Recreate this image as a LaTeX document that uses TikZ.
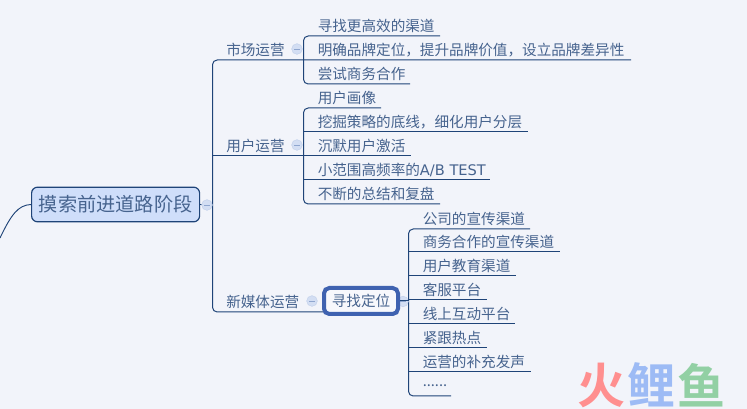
\documentclass[tikz,border=0pt]{standalone}
\usepackage{fontspec}
\newfontfamily\cjkfont{Noto Sans CJK SC}
\newfontfamily\cjkbold{Noto Sans CJK SC Bold}
\newfontfamily\latinfont{DejaVu Sans}
\newcommand{\moredots}{......}
\definecolor{mm back}{HTML}{F2F4FA}
\definecolor{mm navy}{HTML}{1F4478}
\definecolor{mm text}{HTML}{46638E}
\definecolor{mm root}{HTML}{CFDEFA}
\definecolor{mm focus}{HTML}{3F62B0}
\definecolor{mm knob}{HTML}{D3DEF3}
\definecolor{mm minus}{HTML}{8FA6CF}
\definecolor{mark red}{HTML}{FF8F8F}
\definecolor{mark blue}{HTML}{9DBBF5}
\definecolor{mark green}{HTML}{92D0A4}
\tikzset{
  branch/.style = {mm navy, line width = 0.75pt, rounded corners = 3.5pt},
  topic/.style = {anchor = west, inner sep = 0pt, text = mm text, font = \cjkfont\fontsize{10.95}{13}\selectfont},
  knob/.style = {circle, draw = mm knob!80!mm minus, fill = mm knob, line width = 0.4pt, minimum size = 8pt, inner sep = 0pt,
    path picture = {\draw[mm minus, line width = 0.6pt] ([xshift = 1.8pt]path picture bounding box.west) -- ([xshift = -1.8pt]path picture bounding box.east);}},
  logo/.style = {inner sep = 0pt, font = \cjkbold\fontsize{36}{38}\selectfont}
}

\begin{document}
\begin{tikzpicture}[x = 0.75pt, y = -0.75pt]
      \useasboundingbox[fill = mm back] (0, 0) rectangle (747, 409);

      \node[anchor = west, rectangle, rounded corners = 4.5pt, draw = mm navy, fill = mm root, line width = 0.9pt,
        minimum width = 126pt, minimum height = 26pt, inner sep = 0pt, text = mm text,
        font = \cjkfont\fontsize{14.4}{17}\selectfont] (root) at (31, 204.5) {摸索前进道路阶段};

      % first level
      \node[topic] (market) at (226, 49.5) {市场运营};
      \node[topic] (users) at (226, 145.5) {用户运营};
      \node[topic] (media) at (226, 301.5) {新媒体运营};

      % market group
      \foreach \y/\xend/\txt [count = \i] in {36/440/寻找更高效的渠道, 60/631/明确品牌定位，提升品牌价值，设立品牌差异性, 84/410/尝试商务合作} {
        \node[topic] (market\i) at (317.5, \y - 10) {\txt};
        \coordinate (marketL\i) at (303.5, \y);
        \coordinate (marketR\i) at (\xend, \y);
      }

      % user group
      \foreach \y/\xend/\txt [count = \i] in {108/381/用户画像, 132/528/挖掘策略的底线，细化用户分层, 156/411/沉默用户激活, 180/490/{小范围高频率的{\latinfont A/B TEST}}, 204/440/不断的总结和复盘} {
        \node[topic] (users\i) at (317.5, \y - 10) {\txt};
        \coordinate (usersL\i) at (303.5, \y);
        \coordinate (usersR\i) at (\xend, \y);
      }

      % channel group
      \foreach \y/\xend/\txt [count = \i] in {229/530/公司的宣传渠道, 252/560/商务合作的宣传渠道, 276/516/用户教育渠道, 300/487/客服平台, 324/515/线上互动平台, 348/487/紧跟热点, 372/531/运营的补充发声, 396/451/\moredots} {
        \node[topic] (chan\i) at (422.5, \y - 10) {\txt};
        \coordinate (chanL\i) at (408.5, \y);
        \coordinate (chanR\i) at (\xend, \y);
      }

      \coordinate (trunkT) at (212.5, 60);
      \coordinate (trunkM) at (212.5, 156);
      \coordinate (trunkB) at (212.5, 312);
      \coordinate (trunkR) at (212.5, 204.5);
      \coordinate (mediaR) at (324, 312);
      \coordinate (chanM) at (408.5, 301);
      \coordinate (tail) at (0, 238);

      \draw[branch] (marketR2) -- (trunkT) -- (trunkB) -- (mediaR);
      \draw[branch] (trunkM) -- (usersR3);
      \draw[branch] (root.east) -- (trunkR);
      \draw[mm navy, line width = 0.7pt] (root.west) .. controls (18, 205) and (11, 215) .. (tail);

      \draw[branch] (marketR1) -- (marketL1) -- (marketL3) -- (marketR3);
      \draw[branch] (usersR1) -- (usersL1) -- (usersL5) -- (usersR5);
      \foreach \i in {2, 4} {\draw[branch] (usersL\i) -- (usersR\i);}
      \draw[branch] (chanR1) -- (chanL1) -- (chanL8) -- (chanR8);
      \foreach \i in {2, 3, ..., 7} {\draw[branch] (chanL\i) -- (chanR\i);}

      \node[knob] (rootknob) at (207, 205) {};
      \node[knob] (marketknob) at (297, 49) {};
      \node[knob] (usersknob) at (297, 145) {};
      \node[knob] (mediaknob) at (312, 301) {};
      \node[knob] (findknob) at (403, 301.5) {};

      \node[anchor = west, rectangle, rounded corners = 4pt, draw = mm focus, fill = mm back!60!white, line width = 3pt,
        minimum width = 55.5pt, minimum height = 19.5pt, inner sep = 0pt, text = mm text,
        font = \cjkfont\fontsize{10.95}{13}\selectfont] (find) at (322, 301) {寻找定位};
      \draw[branch] (find.east) -- (chanM);

      % watermark
      \node[logo, text = mark red] (logo1) at (601, 385) {火};
      \node[logo, text = mark blue] (logo2) at (651, 385) {鲤};
      \node[logo, text = mark green] (logo3) at (701, 385) {鱼};
    \end{tikzpicture}
\end{document}
